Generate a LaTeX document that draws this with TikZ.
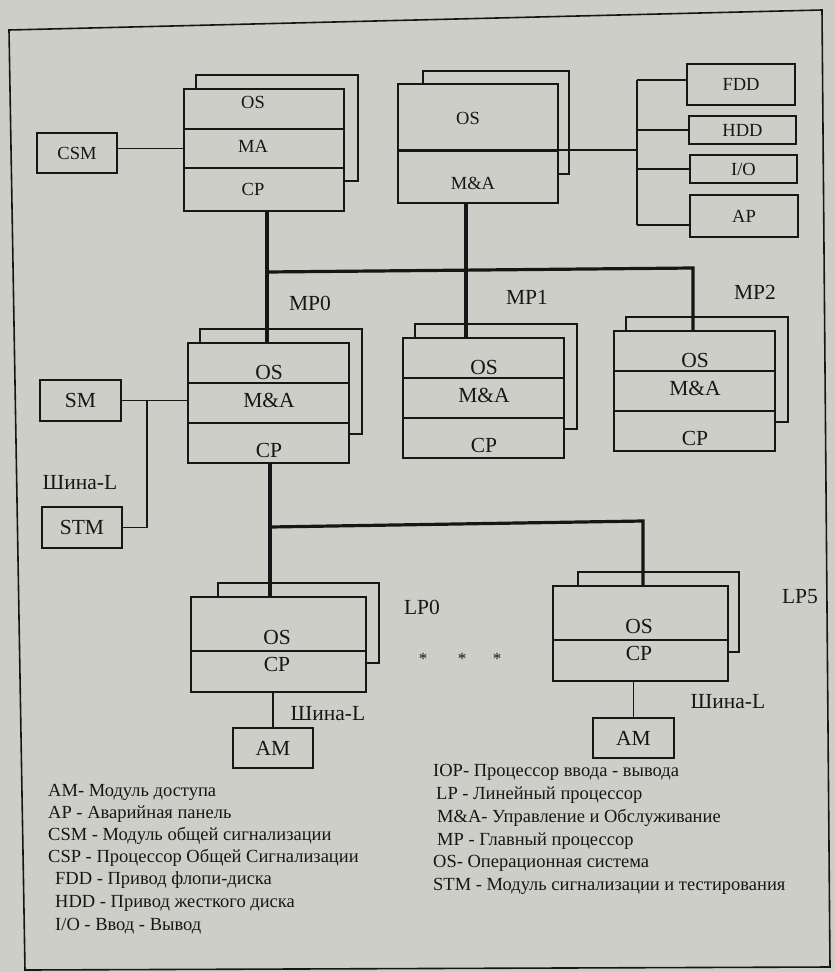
\documentclass[tikz,border=0pt]{standalone}
\usepackage{fontspec}
\setmainfont{Liberation Serif}
\usetikzlibrary{positioning}
\definecolor{paper}{RGB}{206,206,201}
\definecolor{ink}{RGB}{22,22,22}

\begin{document}
\begin{tikzpicture}[x=1pt,y=-1pt,
    slab/.style={draw=ink,line width=1.8pt,fill=paper,inner sep=0pt,anchor=north west},
    rear/.style={draw=ink,line width=1.8pt,inner sep=0pt,anchor=north west},
    dev/.style={draw=ink,line width=1.8pt,fill=paper,inner sep=0pt},
    tagbig/.style={inner sep=0pt,text=ink,font=\fontsize{21.5}{22}\selectfont},
    tagtop/.style={inner sep=0pt,text=ink,font=\fontsize{18.5}{19}\selectfont},
    note/.style={inner sep=0pt,anchor=west,text=ink,font=\fontsize{18.5}{19}\selectfont},
    wire/.style={draw=ink,line width=1.6pt},
    bus/.style={draw=ink,line width=3.2pt}]
    \fill[paper] (0,0) rectangle (835,972);
    \useasboundingbox (0,0) rectangle (835,972);
    \draw[wire] (9,30) -- (822,10) -- (830,967) -- (25,970) -- cycle;

    \node[rear,minimum width=162pt,minimum height=106pt] (csp-back) at (195,74) {};
    \node[slab,minimum width=160pt,minimum height=40pt] (csp-os) at (183,88) {};
    \node[slab,minimum width=160pt,minimum height=39pt] (csp-ma) at (183,128) {};
    \node[slab,minimum width=160pt,minimum height=43pt] (csp-cp) at (183,167) {};
    \node[tagtop] (csp-t1) at (253,102) {OS};
    \node[tagtop] (csp-t2) at (253,146) {MA};
    \node[tagtop] (csp-t3) at (253,189) {CP};
    \node[dev,tagtop,minimum width=80pt,minimum height=40pt] (csm) at (77,153) {CSM};
    \draw[wire] (csm.east |- csp-ma.west) -- (csp-ma.west);

    \node[rear,minimum width=146pt,minimum height=103pt] (iop-back) at (422,70) {};
    \node[slab,minimum width=160pt,minimum height=67pt] (iop-os) at (397,83) {};
    \node[slab,minimum width=160pt,minimum height=52pt] (iop-ma) at (397,150) {};
    \node[tagtop] (iop-t1) at (468,118) {OS};
    \node[tagtop] (iop-t2) at (473,183) {M\&A};

    \coordinate (dtop) at (637,80);
    \coordinate (dbot) at (637,225);
    \node[dev,tagtop,minimum width=108pt,minimum height=41pt] (fdd) at (741,84.5) {FDD};
    \node[dev,tagtop,minimum width=107pt,minimum height=28pt] (hdd) at (742.5,130) {HDD};
    \node[dev,tagtop,minimum width=107pt,minimum height=28pt] (io) at (743.5,169) {I/O};
    \node[dev,tagtop,minimum width=108pt,minimum height=42pt] (ap) at (744,216) {AP};
    \draw[wire] (dtop) -- (dbot);
    \draw[wire] (dtop) -- (dtop -| fdd.west);
    \draw[wire] (hdd.west -| dtop) -- (hdd.west);
    \draw[wire] (io.west -| dtop) -- (io.west);
    \draw[wire] (dbot) -- (dbot -| ap.west);
    \draw[wire] (iop-ma.north west) -- (iop-ma.north west -| dtop);

    \foreach \n/\x/\y in {mp0/187/342,mp1/402/337,mp2/613/330}{
        \node[rear,minimum width=162pt,minimum height=105pt] (\n-back) at (\x+12,\y-14) {};
        \node[slab,minimum width=161pt,minimum height=40pt] (\n-os) at (\x,\y) {};
        \node[slab,minimum width=161pt,minimum height=40pt] (\n-ma) at (\x,\y+40) {};
        \node[slab,minimum width=161pt,minimum height=40pt] (\n-cp) at (\x,\y+80) {};
        \node[tagbig] (\n-t1) at (\x+82,\y+30) {OS};
        \node[tagbig] (\n-t2) at (\x+82,\y+58) {M\&A};
        \node[tagbig] (\n-t3) at (\x+82,\y+108) {CP};
    }
    \node[tagbig] (mp0-name) at (310,303) {MP0};
    \node[tagbig] (mp1-name) at (527,297) {MP1};
    \node[tagbig] (mp2-name) at (755,292) {MP2};

    \coordinate (mpL) at (267,272);
    \coordinate (mpM) at (466,270);
    \coordinate (mpR) at (693,268);
    \draw[bus] (csp-cp.south -| mpL) -- (mp0-os.north -| mpL);
    \draw[bus] (mpL) -- (mpR) -- (mp2-os.north -| mpR);
    \draw[bus] (iop-ma.south -| mpM) -- (mp1-os.north -| mpM);

    \node[dev,tagbig,minimum width=81pt,minimum height=41pt] (sm) at (80.5,400.5) {SM};
    \node[dev,tagbig,minimum width=80pt,minimum height=41pt] (stm) at (82,527.5) {STM};
    \coordinate (lbus) at (147,0);
    \draw[wire] (sm.east) -- (sm.east -| mp0-ma.west);
    \draw[wire] (sm.east -| lbus) -- (stm.east -| lbus) -- (stm.east);
    \node[tagbig] (lbus-name) at (80,483) {Шина-L};

    \foreach \n/\x/\y/\b in {lp0/190/596/217,lp5/552/585/577}{
        \node[rear,minimum width=161pt,minimum height=80pt] (\n-back) at (\b,\y-14) {};
        \node[slab,minimum width=175pt,minimum height=54pt] (\n-os) at (\x,\y) {};
        \node[slab,minimum width=175pt,minimum height=41pt] (\n-cp) at (\x,\y+54) {};
        \node[tagbig] (\n-t1) at (\x+87,\y+41) {OS};
        \node[tagbig] (\n-t2) at (\x+87,\y+68) {CP};
    }
    \node[tagbig] (lp0-name) at (422,607) {LP0};
    \node[tagbig] (lp5-name) at (800,597) {LP5};
    \foreach \x [count=\i] in {423,462,497}
        \node[inner sep=0pt,text=ink,font=\fontsize{17}{17}\selectfont] (star\i) at (\x,659) {*};

    \coordinate (lpL) at (270,527);
    \coordinate (lpR) at (643,521);
    \draw[bus] (mp0-cp.south -| lpL) -- (lp0-os.north -| lpL);
    \draw[bus] (lpL) -- (lpR) -- (lp5-os.north -| lpR);

    \node[dev,tagbig,minimum width=80pt,minimum height=40pt] (am0) at (273,748) {AM};
    \node[dev,tagbig,minimum width=81pt,minimum height=40pt] (am5) at (633.5,738) {AM};
    \draw[wire] (lp0-cp.south -| am0) -- (am0.north);
    \draw[wire] (lp5-cp.south -| am5) -- (am5.north);
    \node[tagbig] (lp0-bus) at (328,714) {Шина-L};
    \node[tagbig] (lp5-bus) at (728,702) {Шина-L};

    \foreach \t [count=\i] in {{AM- Модуль доступа},{AP - Аварийная панель},{CSM - Модуль общей сигнализации},{CSP - Процессор Общей Сигнализации}}
        \node[note] (legA\i) at (48,770+22*\i) {\t};
    \foreach \t [count=\i] in {{FDD - Привод флопи-диска},{HDD - Привод жесткого диска},{I/O - Ввод - Вывод}}
        \node[note] (legB\i) at (55,857+23*\i) {\t};
    \foreach \x/\t [count=\i] in {433/{IOP- Процессор ввода - вывода},436/{LP - Линейный процессор},437/{M\&A- Управление и Обслуживание},437/{MP - Главный процессор},433/{OS- Операционная система},433/{STM - Модуль сигнализации и тестирования}}
        \node[note] (legC\i) at (\x,750+22.7*\i) {\t};
\end{tikzpicture}
\end{document}
